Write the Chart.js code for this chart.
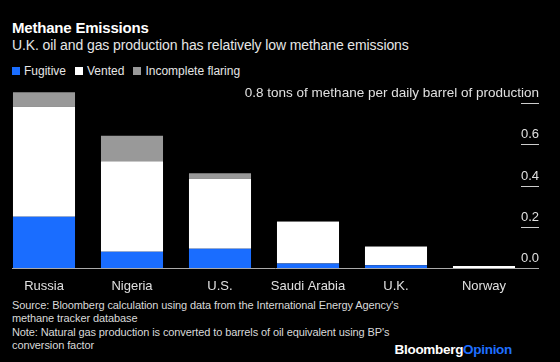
<!DOCTYPE html>
<html>
<head>
<meta charset="utf-8">
<script src="https://cdn.jsdelivr.net/npm/chart.js@4"></script>
<style>
  html, body { margin: 0; padding: 0; background: #000; }
  body { width: 560px; height: 362px; position: relative; overflow: hidden;
         font-family: "Liberation Sans", Arial, sans-serif; color: #fff; }
  .abs { position: absolute; white-space: nowrap; }
  #title { left: 12px; top: 19px; font-size: 15px; font-weight: bold; letter-spacing: -0.2px; }
  #subtitle { left: 12px; top: 37px; font-size: 14px; color: #e6e6e6; letter-spacing: -0.1px; }
  #legend { left: 12px; top: 64px; font-size: 12px; color: #e6e6e6; }
  #legend span.sw { display: inline-block; width: 8px; height: 8px; margin-right: 4px; }
  #legend span.item { margin-right: 9px; }
  #chart-wrap { position: absolute; left: 0; top: 80px; width: 560px; height: 216px; }
  #footer { left: 12px; top: 299px; font-size: 11px; line-height: 13.3px; color: #d9d9d9; letter-spacing: -0.1px; }
  #brand { right: 48px; top: 342px; font-size: 13.5px; font-weight: bold; letter-spacing: -0.3px; }
</style>
</head>
<body>
<div id="title" class="abs">Methane Emissions</div>
<div id="subtitle" class="abs">U.K. oil and gas production has relatively low methane emissions</div>
<div id="legend" class="abs"></div>
<div id="chart-wrap"><canvas id="chart"></canvas></div>
<div id="footer" class="abs">Source: Bloomberg calculation using data from the International Energy Agency's<br>methane tracker database<br>Note: Natural gas production is converted to barrels of oil equivalent using BP's<br>conversion factor</div>
<div id="brand" class="abs">Bloomberg<span style="color:#1f6fff">Opinion</span></div>

<script>
const countries = ["Russia", "Nigeria", "U.S.", "Saudi Arabia", "U.K.", "Norway"];
const fugitive = [0.25, 0.081, 0.095, 0.024, 0.015, 0.002];
const vented = [0.531, 0.436, 0.338, 0.200, 0.089, 0.009];
const flaring = [0.07, 0.124, 0.026, 0.004, 0.003, 0.001];
const yTicks = [0, 0.2, 0.4, 0.6, 0.8];
const unitLabel = "tons of methane per daily barrel of production";

const BLUE = "#1a6dff";
const WHITE = "#ffffff";
const GRAY = "#999999";

// legend
const legendItems = [["Fugitive", BLUE], ["Vented", WHITE], ["Incomplete flaring", GRAY]];
document.getElementById("legend").innerHTML = legendItems
  .map(([name, c]) => `<span class="item"><span class="sw" style="background:${c}"></span>${name}</span>`)
  .join("");

// right-hand axis labels, short tick marks and baseline
const rightAxis = {
  id: "rightAxis",
  afterDatasetsDraw(chart) {
    const { ctx } = chart;
    const y = chart.scales.y;
    ctx.save();
    ctx.textAlign = "right";
    ctx.textBaseline = "alphabetic";
    yTicks.forEach((v) => {
      const py = Math.round(y.getPixelForValue(v)) + 0.5;
      ctx.strokeStyle = v === 0 ? "#aaaaaa" : "#cccccc";
      ctx.lineWidth = 1;
      ctx.beginPath();
      ctx.moveTo(v === 0 ? 12 : 521, py);
      ctx.lineTo(539, py);
      ctx.stroke();
      ctx.fillStyle = "#e0e0e0";
      ctx.font = v === 0.8 ? '13.5px "Liberation Sans", Arial, sans-serif' : '13px "Liberation Sans", Arial, sans-serif';
      const txt = v === 0.8 ? `${v.toFixed(1)} ${unitLabel}` : v.toFixed(1);
      ctx.fillText(txt, 539, py - 7);
    });
    ctx.restore();
  },
};

new Chart(document.getElementById("chart"), {
  type: "bar",
  data: {
    labels: countries,
    datasets: [
      { label: "Fugitive", data: fugitive, backgroundColor: BLUE },
      { label: "Vented", data: vented, backgroundColor: WHITE },
      { label: "Incomplete flaring", data: flaring, backgroundColor: GRAY },
    ],
  },
  options: {
    responsive: true,
    maintainAspectRatio: false,
    animation: false,
    layout: { padding: { left: 0, right: 32, top: 0, bottom: 0 } },
    datasets: { bar: { barPercentage: 0.705, categoryPercentage: 1, borderWidth: 0 } },
    scales: {
      x: {
        stacked: true,
        grid: { display: false },
        border: { display: false },
        ticks: { color: "#e0e0e0", font: { size: 13, family: '"Liberation Sans", Arial, sans-serif' }, padding: 2, maxRotation: 0 },
      },
      y: {
        stacked: true,
        display: false,
        min: 0,
        max: 0.91,
      },
    },
    plugins: {
      legend: { display: false },
      tooltip: { enabled: false },
    },
  },
  plugins: [rightAxis],
});
</script>
</body>
</html>
